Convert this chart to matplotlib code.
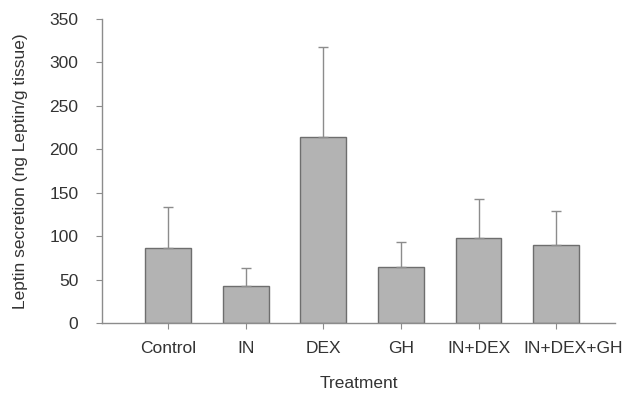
import matplotlib
matplotlib.use("Agg")
import matplotlib.pyplot as plt
import matplotlib.transforms as mtransforms
import numpy as np

plt.rcParams['font.family'] = ['Liberation Sans', 'DejaVu Sans']

treatments = ["Control", "IN", "DEX", "GH", "IN+DEX", "IN+DEX+GH"]
leptin = [86, 43, 214, 65, 98, 90]
err_up = [48, 20, 104, 28, 45, 39]

grey = "#8c8c8c"
txt = "#333333"

fig = plt.figure(figsize=(6.22, 3.96), dpi=100)
ax = fig.add_axes([0.164, 0.184, 0.825, 0.768])

x = np.arange(len(treatments))
ax.bar(x, leptin, width=0.59, color="#b3b3b3", edgecolor="#6e6e6e", linewidth=1.0,
       yerr=[np.zeros(len(err_up)), err_up], ecolor=grey,
       error_kw=dict(elinewidth=1.0, capsize=3.5, capthick=1.0))

ax.set_xlim(-0.85, 5.76)
ax.set_ylim(0, 350)
ax.set_yticks(np.arange(0, 351, 50))
ax.set_xticks(x)
ax.set_xticklabels(treatments)

for s in ["top", "right"]:
    ax.spines[s].set_visible(False)
for s in ["left", "bottom"]:
    ax.spines[s].set_color(grey)
    ax.spines[s].set_linewidth(1.0)

ax.tick_params(axis="y", direction="out", length=4, color=grey, pad=13,
               labelsize=12.5, labelcolor=txt)
ax.tick_params(axis="x", direction="out", length=4, color=grey, pad=9,
               labelsize=12.5, labelcolor=txt)

# last label sits a bit right of its tick, like the original
lab = ax.get_xticklabels()[-1]
lab.set_transform(lab.get_transform() + mtransforms.ScaledTranslation(0.17, 0, fig.dpi_scale_trans))

ax.set_ylabel("Leptin secretion (ng Leptin/g tissue)", fontsize=12.5, color=txt)
ax.set_xlabel("Treatment", fontsize=12.5, color=txt)
ax.yaxis.set_label_coords(-0.144, 0.5)
ax.xaxis.set_label_coords(0.5, -0.175)

fig.savefig("out.png", dpi=100)
